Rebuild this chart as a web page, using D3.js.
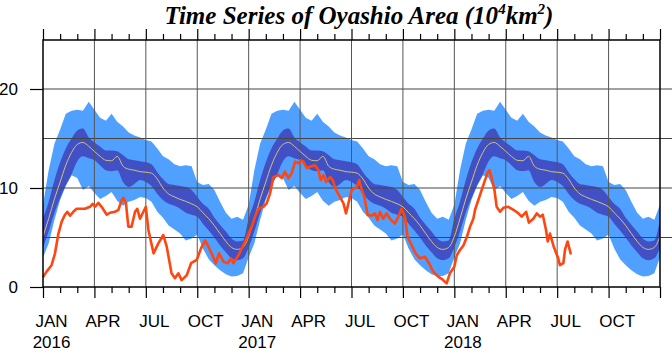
<!DOCTYPE html>
<html>
<head>
<meta charset="utf-8">
<script src="https://cdn.jsdelivr.net/npm/d3@7"></script>
<style>
  body { margin: 0; background: #fff; }
  text { font-family: "Liberation Sans", Arial, sans-serif; }
  text.title { font-family: "Liberation Serif", "Times New Roman", serif; }
</style>
</head>
<body>
<div id="chart"></div>
<script>
// climatology, read every ~10 days (months since Jan 1), same each year
var climMonth = [0, 0.33, 0.67, 1, 1.33, 1.67, 2, 2.33, 2.67, 3, 3.33, 3.67,
  4, 4.33, 4.67, 5, 5.33, 5.67, 6, 6.33, 6.67, 7, 7.33, 7.67,
  8, 8.33, 8.67, 9, 9.33, 9.67, 10, 10.33, 10.67, 11, 11.33, 11.67];
var climMax = [8.3, 11.8, 14.5, 15.9, 17.5, 17.8, 17.9, 17.8, 18.7, 17.9, 17.1, 16.8,
  17.5, 16.7, 16.2, 15.6, 15.3, 15.1, 14.85, 14.7, 14.0, 13.2, 12.9, 12.4,
  12.2, 12.3, 12.2, 10.6, 10.3, 10.4, 9.8, 8.6, 7.5, 6.9, 7.1, 6.8];
var climHi = [6.9, 8.6, 10.8, 12.6, 14.0, 15.0, 15.8, 16.0, 15.1, 14.6, 14.2, 13.8,
  13.8, 13.7, 13.3, 12.9, 12.8, 12.7, 12.6, 12.4, 11.6, 10.9, 10.4, 10.3,
  10.2, 10.1, 9.8, 9.1, 8.4, 7.9, 7.0, 6.3, 5.6, 4.9, 4.6, 4.7];
var climMean = [5.1, 6.9, 8.9, 10.6, 12.3, 13.6, 14.4, 14.6, 14.2, 13.7, 13.2, 12.8,
  12.75, 13.2, 12.2, 11.9, 11.8, 11.65, 11.6, 11.5, 10.9, 10.0, 9.4, 9.1,
  8.85, 8.65, 8.4, 8.1, 7.5, 6.9, 6.2, 5.4, 4.6, 4.0, 3.8, 4.0];
var climLo = [4.0, 5.6, 7.5, 9.0, 10.3, 11.4, 12.7, 13.2, 13.0, 12.8, 12.3, 11.8,
  11.7, 11.8, 10.6, 10.1, 10.4, 10.8, 10.6, 10.2, 9.4, 8.8, 8.4, 8.2,
  7.9, 7.5, 7.3, 7.1, 6.4, 5.7, 5.0, 4.2, 3.5, 2.9, 2.7, 2.9];
var climMin = [3.0, 4.4, 6.8, 8.8, 10.2, 11.3, 11.0, 9.8, 10.2, 9.5, 8.9, 9.2,
  9.6, 8.7, 8.2, 8.6, 8.8, 9.1, 9.0, 8.6, 7.6, 7.0, 6.2, 5.8,
  5.4, 4.7, 4.9, 5.3, 3.9, 2.8, 2.2, 1.7, 1.3, 1.05, 1.1, 1.4];

// observed area (months since Jan 2016)
var obsMonth = [0, 0.21, 0.5, 0.7, 0.9, 1.09, 1.28, 1.42, 1.58, 1.77, 1.96, 2.16, 2.45, 2.74, 2.9,
  3.03, 3.23, 3.42, 3.72, 3.91, 4.2, 4.4, 4.6, 4.69, 4.84, 4.98, 5.17, 5.37, 5.5, 5.66, 5.86,
  6.0, 6.15, 6.45, 6.73, 7.02, 7.22, 7.5, 7.7, 7.9, 8.09, 8.39, 8.64, 8.97, 9.22, 9.46, 9.65,
  9.84, 10.08, 10.27, 10.53, 10.78, 10.97, 11.11, 11.4, 11.79, 12.18, 12.37, 12.57, 12.86,
  13.05, 13.25, 13.44, 13.73, 13.93, 14.12, 14.32, 14.51, 14.71, 14.9, 15.04, 15.19, 15.39,
  15.58, 15.87, 16.07, 16.2, 16.36, 16.52, 16.75, 16.9, 17.1, 17.37, 17.53, 17.68, 17.82,
  18.01, 18.3, 18.45, 18.55, 18.75, 18.94, 19.17, 19.37, 19.52, 19.66, 19.85, 20.05, 20.24,
  20.53, 20.73, 20.92, 21.12, 21.27, 21.5, 21.74, 21.99, 22.29, 22.52, 22.77, 23.06, 23.3,
  23.55, 23.74, 24.0, 24.14, 24.33, 24.53, 24.72, 24.92, 25.11, 25.21, 25.5, 25.79, 25.95,
  26.05, 26.18, 26.34, 26.47, 26.67, 26.86, 27.15, 27.45, 27.74, 27.93, 28.19, 28.35, 28.61,
  28.81, 29.0, 29.16, 29.35, 29.45, 29.58, 29.8, 30.06, 30.16, 30.36, 30.46, 30.61, 30.8];
var obsArea = [1.0, 1.55, 2.2, 3.4, 5.4, 6.6, 7.3, 7.6, 7.2, 7.6, 7.9, 7.9, 7.9, 8.1, 8.4,
  8.1, 8.5, 8.1, 7.3, 7.5, 7.6, 7.8, 8.8, 9.0, 8.45, 6.1, 6.1, 7.6, 7.9, 6.9, 7.6,
  8.1, 5.76, 3.4, 4.4, 5.25, 4.07, 1.38, 0.88, 1.38, 0.7, 1.2, 2.4, 2.73, 3.9, 4.7, 4.07,
  3.4, 2.4, 3.4, 2.56, 2.4, 2.9, 2.4, 3.2, 4.6, 6.1, 7.1, 7.9, 8.1,
  8.45, 9.46, 11.1, 11.3, 11.0, 11.65, 11.0, 11.5, 12.66, 12.5, 12.8, 12.66, 12.0,
  12.15, 12.3, 11.8, 10.8, 11.3, 10.6, 11.1, 10.8, 9.8, 8.96, 8.45, 7.44, 8.45,
  9.8, 10.1, 10.8, 10.1, 9.1, 7.3, 7.2, 7.44, 6.77, 7.6, 6.9, 7.44, 6.9,
  6.4, 7.1, 7.9, 7.1, 5.1, 4.24, 3.4, 2.9, 3.06, 2.4, 1.55, 1.04, 0.77,
  0.37, 1.38, 2.05, 3.2, 3.74, 4.2, 5.0, 6.1, 6.9, 7.8, 9.3, 10.8, 11.6,
  11.8, 11.0, 9.8, 8.1, 7.6, 8.0, 8.1, 7.8, 7.44, 7.1, 7.6, 6.5, 6.9,
  7.44, 7.1, 7.3, 5.76, 4.6, 5.4, 4.07, 2.9, 2.2, 2.4, 3.8, 4.6, 3.3];

var years = ["2016", "2017", "2018"];
var monthNames = ["JAN", "APR", "JUL", "OCT"];
var yTicks = [0, 10, 20];
var yGrid = [5, 10, 15, 20];

var width = 672, height = 351;
var margin = { top: 40, right: 12, bottom: 64, left: 43 };
var plotW = width - margin.left - margin.right,
    plotH = height - margin.top - margin.bottom;

var svg = d3.select("#chart")
  .append("svg")
  .attr("width", width)
  .attr("height", height);

var g = svg.append("g")
  .attr("transform", "translate(" + margin.left + "," + margin.top + ")");

var x = d3.scaleLinear().domain([0, 36]).range([0, plotW]);
var y = d3.scaleLinear().domain([0, 25]).range([plotH, -0.5]);

// repeat the climatology over the 3 years
var clim = [];
years.forEach(function(yr, i) {
  climMonth.forEach(function(m, k) {
    clim.push({ t: i * 12 + m, max: climMax[k], hi: climHi[k], mean: climMean[k], lo: climLo[k], min: climMin[k] });
  });
});
clim.push({ t: 36, max: climMax[0], hi: climHi[0], mean: climMean[0], lo: climLo[0], min: climMin[0] });

var obs = obsMonth.map(function(m, i) { return { t: m, v: obsArea[i] }; });

// bands
g.append("path")
  .datum(clim)
  .attr("fill", "#50a0ff")
  .attr("d", d3.area()
    .x(function(d) { return x(d.t); })
    .y0(function(d) { return y(d.min); })
    .y1(function(d) { return y(d.max); }));

g.append("path")
  .datum(clim)
  .attr("fill", "#4250c6")
  .attr("d", d3.area()
    .curve(d3.curveMonotoneX)
    .x(function(d) { return x(d.t); })
    .y0(function(d) { return y(d.lo); })
    .y1(function(d) { return y(d.hi); }));

// grid
g.selectAll(".hgrid")
  .data(yGrid)
  .enter()
  .append("line")
  .attr("class", "hgrid")
  .attr("x1", 0)
  .attr("x2", width - margin.left)
  .attr("y1", function(d) { return y(d); })
  .attr("y2", function(d) { return y(d); })
  .attr("stroke", "#444")
  .attr("stroke-width", 1);

g.selectAll(".vgrid")
  .data(d3.range(3, 36, 3))
  .enter()
  .append("line")
  .attr("class", "vgrid")
  .attr("x1", function(d) { return x(d); })
  .attr("x2", function(d) { return x(d); })
  .attr("y1", 0)
  .attr("y2", plotH)
  .attr("stroke", "#555")
  .attr("stroke-width", 1);

// mean
g.append("path")
  .datum(clim)
  .attr("fill", "none")
  .attr("stroke", "#cfc47a")
  .attr("stroke-width", 1)
  .attr("d", d3.line()
    .curve(d3.curveMonotoneX)
    .x(function(d) { return x(d.t); })
    .y(function(d) { return y(d.mean); }));

// observed
g.append("path")
  .datum(obs)
  .attr("fill", "none")
  .attr("stroke", "#ff4510")
  .attr("stroke-width", 2.6)
  .attr("stroke-linejoin", "round")
  .attr("d", d3.line()
    .x(function(d) { return x(d.t); })
    .y(function(d) { return y(d.v); }));

// frame
g.append("rect")
  .attr("x", 0).attr("y", 0)
  .attr("width", plotW).attr("height", plotH)
  .attr("fill", "none")
  .attr("stroke", "#000")
  .attr("stroke-width", 1.5);

// month ticks top and bottom
var minorMonths = d3.range(0, 37).filter(function(m) { return m % 3 != 0; });
var majorMonths = d3.range(0, 37, 3);

function monthTicks(axisFn, ty) {
  var a = g.append("g").attr("transform", "translate(0," + ty + ")")
    .call(axisFn(x).tickValues(minorMonths).tickSize(6).tickFormat(""));
  a.select(".domain").remove();
  var b = g.append("g").attr("transform", "translate(0," + ty + ")")
    .call(axisFn(x).tickValues(majorMonths).tickSize(11).tickFormat(""));
  b.select(".domain").remove();
  g.selectAll(".tick line").attr("stroke-width", 1.2);
}
monthTicks(d3.axisBottom, plotH);
monthTicks(d3.axisTop, 0);

// y axis
var yAxis = g.append("g")
  .call(d3.axisLeft(y).tickValues(yTicks).tickSize(13).tickPadding(12));
yAxis.select(".domain").remove();
yAxis.selectAll("line").attr("stroke-width", 1.2);
yAxis.selectAll("text")
  .attr("font-size", "17px")
  .attr("fill", "#000");

// month labels, centred mid-month
g.selectAll(".mlabel")
  .data(majorMonths.slice(0, 12))
  .enter()
  .append("text")
  .attr("class", "mlabel")
  .attr("x", function(d) { return x(d + 0.5); })
  .attr("y", plotH + 40)
  .attr("text-anchor", "middle")
  .attr("font-size", "17px")
  .text(function(d) { return monthNames[(d / 3) % 4]; });

g.selectAll(".ylabel")
  .data(years)
  .enter()
  .append("text")
  .attr("class", "ylabel")
  .attr("x", function(d, i) { return x(i * 12 + 0.5); })
  .attr("y", plotH + 61)
  .attr("text-anchor", "middle")
  .attr("font-size", "17px")
  .text(function(d) { return d; });

// title
var title = svg.append("text")
  .attr("class", "title")
  .attr("x", 359)
  .attr("y", 24)
  .attr("text-anchor", "middle")
  .attr("font-style", "italic")
  .attr("font-weight", "bold")
  .attr("font-size", "25px");
title.append("tspan").text("Time Series of Oyashio Area (10");
title.append("tspan").attr("font-size", "15px").attr("dy", -10).text("4");
title.append("tspan").attr("dy", 10).text("km");
title.append("tspan").attr("font-size", "15px").attr("dy", -10).text("2");
title.append("tspan").attr("dy", 10).text(")");
</script>
</body>
</html>
